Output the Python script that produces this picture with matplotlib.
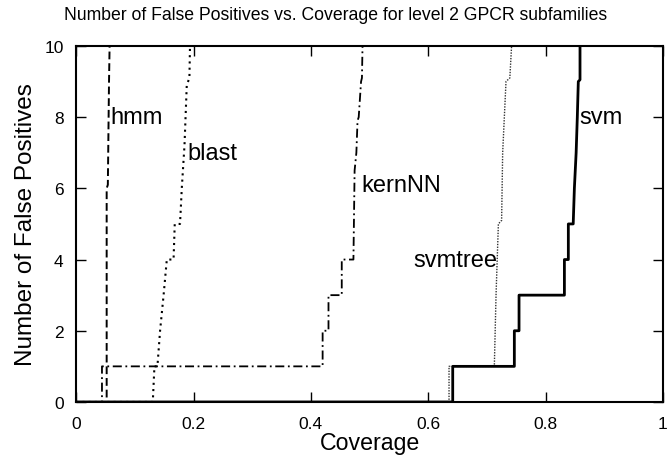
import matplotlib
matplotlib.use('Agg')
import matplotlib.pyplot as plt

plt.rcParams['font.family'] = ['Liberation Sans', 'DejaVu Sans']

# curve vertices (coverage, number of false positives)
hmm_cov = [0.0, 0.052, 0.052, 0.054, 0.056, 0.057]
hmm_fp = [0, 0, 6, 6.1, 9, 10]

blast_cov = [0.0, 0.1306, 0.1334, 0.1385, 0.143, 0.149, 0.1545, 0.166, 0.168,
             0.177, 0.180, 0.1846, 0.1885, 0.193, 0.194]
blast_fp = [0, 0, 1, 1, 2, 3, 4, 4, 5, 5, 6, 7.2, 8.9, 9.1, 10]

kern_cov = [0.0, 0.044, 0.044, 0.42, 0.42, 0.43, 0.43, 0.4526, 0.4526, 0.4725,
            0.4745, 0.4775, 0.4795, 0.4815, 0.4855, 0.487, 0.488]
kern_fp = [0, 0, 1, 1, 2, 2, 3, 3, 4, 4, 6.5, 7, 7.9, 8, 9, 9.1, 10]

svmtree_cov = [0.0, 0.6354, 0.6354, 0.7126, 0.7155, 0.7195, 0.725, 0.7268,
               0.7325, 0.739, 0.742]
svmtree_fp = [0, 0, 1, 1, 3, 5, 5.1, 7, 9, 9.1, 10]

svm_cov = [0.0, 0.6417, 0.6417, 0.7467, 0.7467, 0.7547, 0.7547, 0.832, 0.832,
           0.8387, 0.8387, 0.847, 0.849, 0.852, 0.854, 0.8557, 0.8586, 0.8586]
svm_fp = [0, 0, 1, 1, 2, 2, 3, 3, 4, 4, 5, 5, 6, 7, 8, 9, 9.05, 10]

labels = ['hmm', 'blast', 'kernNN', 'svmtree', 'svm']
label_x = [0.058, 0.189, 0.486, 0.717, 0.857]
label_y = [8.0, 7.0, 6.1, 4.0, 8.0]

fig = plt.figure(figsize=(6.68, 4.60), dpi=100)
ax = fig.add_axes([0.114, 0.124, 0.8785, 0.774])

ax.plot(hmm_cov, hmm_fp, color='black', lw=1.4, linestyle=(0, (4, 2)))
ax.plot(blast_cov, blast_fp, color='black', lw=1.5, linestyle=(0, (1, 2)))
ax.plot(kern_cov, kern_fp, color='black', lw=1.3, linestyle=(0, (5, 2, 1, 2)))
ax.plot(svmtree_cov, svmtree_fp, color='#333333', lw=1.0, linestyle=(0, (1, 1)))
ax.plot(svm_cov, svm_fp, color='black', lw=2.0)

for name, x, y in zip(labels, label_x, label_y):
    ha = 'right' if name == 'svmtree' else 'left'
    ax.text(x, y, name, fontsize=17, ha=ha, va='center')

ax.set_xlim(0, 1)
ax.set_ylim(0, 10)
ax.set_xticks([0, 0.2, 0.4, 0.6, 0.8, 1])
ax.set_xticklabels(['0', '0.2', '0.4', '0.6', '0.8', '1'])
ax.set_yticks([0, 2, 4, 6, 8, 10])
ax.tick_params(direction='in', length=7, width=1, labelsize=12.5,
               top=True, right=True)
ax.tick_params(axis='x', pad=10)
ax.tick_params(axis='y', pad=9)
for s in ax.spines.values():
    s.set_linewidth(1.5)

ax.set_xlabel('Coverage', fontsize=16.7, labelpad=0)
ax.set_ylabel('Number of False Positives', fontsize=17.5, labelpad=5)
fig.text(0.503, 0.967, 'Number of False Positives vs. Coverage for level 2 GPCR subfamilies',
         fontsize=12.7, ha='center', va='center')

fig.savefig('out.png', dpi=100)
